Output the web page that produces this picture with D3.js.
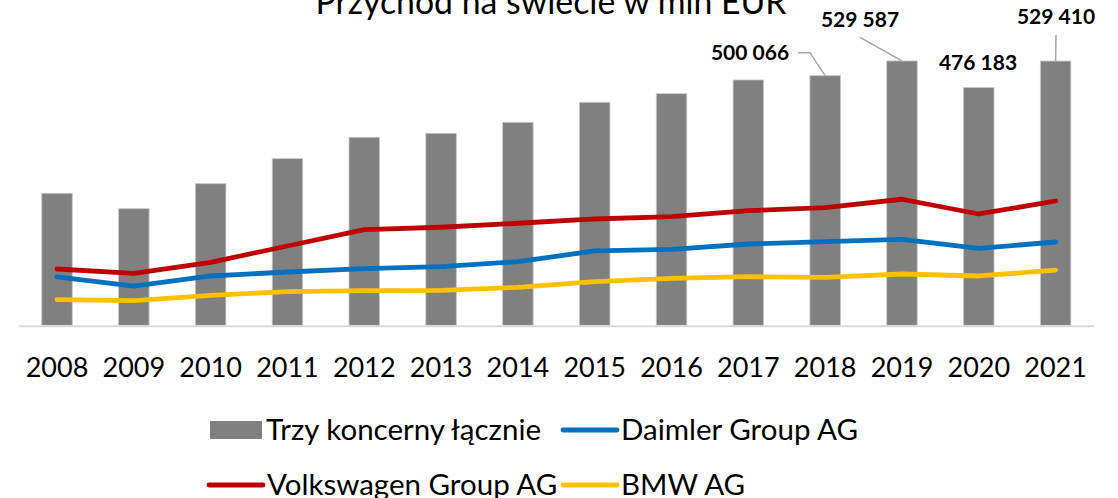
<!DOCTYPE html>
<html>
<head>
<meta charset="utf-8">
<script src="https://cdn.jsdelivr.net/npm/d3@7"></script>
<style>
  body { margin: 0; background: #fff; }
  text { font-family: Lato, "Open Sans", sans-serif; }
</style>
</head>
<body>
<div id="chart"></div>
<script>
// Data (mln EUR)
var years = ["2008", "2009", "2010", "2011", "2012", "2013", "2014", "2015", "2016", "2017", "2018", "2019", "2020", "2021"];
var totalRevenue = [264500, 233600, 283700, 333800, 376700, 384700, 406700, 446800, 464000, 491500, 500066, 529587, 476183, 529410];
var vwRevenue = [112800, 104200, 126200, 158900, 191500, 196400, 204400, 213000, 217600, 229600, 235600, 252500, 223000, 249000];
var daimlerRevenue = [96800, 78700, 98800, 106800, 113400, 117400, 127400, 148900, 152300, 162900, 167500, 172300, 154300, 166900];
var bmwRevenue = [51300, 49300, 60100, 67300, 69500, 70000, 76100, 87300, 94000, 97400, 96200, 102800, 98800, 110600];
var labelledYears = ["2018", "2019", "2020", "2021"];

var svgWidth = 1118;
var svgHeight = 498;

var svg = d3.select("#chart")
  .append("svg")
  .attr("width", svgWidth)
  .attr("height", svgHeight);

// Scales
var xScale = d3.scaleBand()
  .domain(years)
  .range([18.6, 1094])
  .paddingInner(0.603)
  .paddingOuter(0.3015);

var yScale = d3.scaleLinear()
  .domain([0, 600000])
  .range([325.3, 25.8]);

var cx = function(i) { return xScale(years[i]) + xScale.bandwidth() / 2; };

// Title (partly cut at the top, as in the original)
svg.append("text")
  .attr("x", 551)
  .attr("y", 14)
  .attr("text-anchor", "middle")
  .style("font-size", "33.8px")
  .style("fill", "#000")
  .text("Przychód na świecie w mln EUR");

// Bars
svg.selectAll("rect.bar")
  .data(totalRevenue)
  .enter()
  .append("rect")
  .attr("class", "bar")
  .attr("x", (d, i) => xScale(years[i]))
  .attr("y", d => yScale(d))
  .attr("width", xScale.bandwidth())
  .attr("height", d => yScale(0) - yScale(d))
  .attr("fill", "#808080")
  .attr("stroke", "#c8c8c8")
  .attr("stroke-width", 0.8);

// Category axis
var bottomAxis = d3.axisBottom(xScale).tickSize(0).tickPadding(0);
var axisG = svg.append("g")
  .attr("transform", `translate(0, ${yScale(0)})`)
  .call(bottomAxis);
axisG.select(".domain").remove();
axisG.selectAll("text")
  .attr("dy", null)
  .attr("y", 51.5)
  .style("font-family", "Lato, sans-serif")
  .style("font-size", "27px")
  .style("fill", "#000");

svg.append("line")
  .attr("x1", xScale.range()[0])
  .attr("x2", xScale.range()[1])
  .attr("y1", yScale(0) + 1)
  .attr("y2", yScale(0) + 1)
  .attr("stroke", "#d9d9d9")
  .attr("stroke-width", 2);

// Lines
var series = [
  { name: "Volkswagen Group AG", values: vwRevenue, color: "#c00000" },
  { name: "Daimler Group AG", values: daimlerRevenue, color: "#0070c0" },
  { name: "BMW AG", values: bmwRevenue, color: "#ffc000" }
];

var lineGen = d3.line()
  .x((d, i) => cx(i))
  .y(d => yScale(d));

series.slice().reverse().forEach(function(s) {
  svg.append("path")
    .datum(s.values)
    .attr("d", lineGen)
    .attr("fill", "none")
    .attr("stroke", s.color)
    .attr("stroke-width", 4.8)
    .attr("stroke-linecap", "round")
    .attr("stroke-linejoin", "round");
});

// Data labels with leader lines
var fmt = function(v) { return d3.format(",")(v).replace(/,/g, " "); };
var labelPos = {
  "2018": { x: 750, y: 60, leader: [[798, 52.7], [810, 52.7]] },
  "2019": { x: 860, y: 26.7, leader: [[860, 37.3]] },
  "2020": { x: 978, y: 70, leader: null },
  "2021": { x: 1056, y: 24, leader: [[1056, 35]] }
};

labelledYears.forEach(function(yr) {
  var i = years.indexOf(yr);
  var p = labelPos[yr];
  if (p.leader) {
    var pts = p.leader.concat([[cx(i), yScale(totalRevenue[i])]]);
    svg.append("path")
      .attr("d", d3.line()(pts))
      .attr("fill", "none")
      .attr("stroke", "#a6a6a6")
      .attr("stroke-width", 1.5);
  }
  svg.append("text")
    .attr("x", p.x)
    .attr("y", p.y)
    .attr("text-anchor", "middle")
    .style("font-size", "21px")
    .style("font-weight", "bold")
    .style("fill", "#000")
    .text(fmt(totalRevenue[i]));
});

// Legend
var legend = svg.append("g");
legend.append("rect")
  .attr("x", 210).attr("y", 421)
  .attr("width", 52).attr("height", 18)
  .attr("fill", "#808080");
legend.append("text")
  .attr("x", 266).attr("y", 440)
  .style("font-size", "29.5px")
  .text("Trzy koncerny łącznie");

var legendLines = [
  { s: series[1], x: 563, y: 430 },
  { s: series[0], x: 209, y: 485 },
  { s: series[2], x: 563, y: 485 }
];
legendLines.forEach(function(l) {
  legend.append("line")
    .attr("x1", l.x).attr("x2", l.x + 54)
    .attr("y1", l.y).attr("y2", l.y)
    .attr("stroke", l.s.color)
    .attr("stroke-width", 4.8)
    .attr("stroke-linecap", "round");
  legend.append("text")
    .attr("x", l.x + 58).attr("y", l.y + 10)
    .style("font-size", "29.5px")
    .text(l.s.name);
});
</script>
</body>
</html>
